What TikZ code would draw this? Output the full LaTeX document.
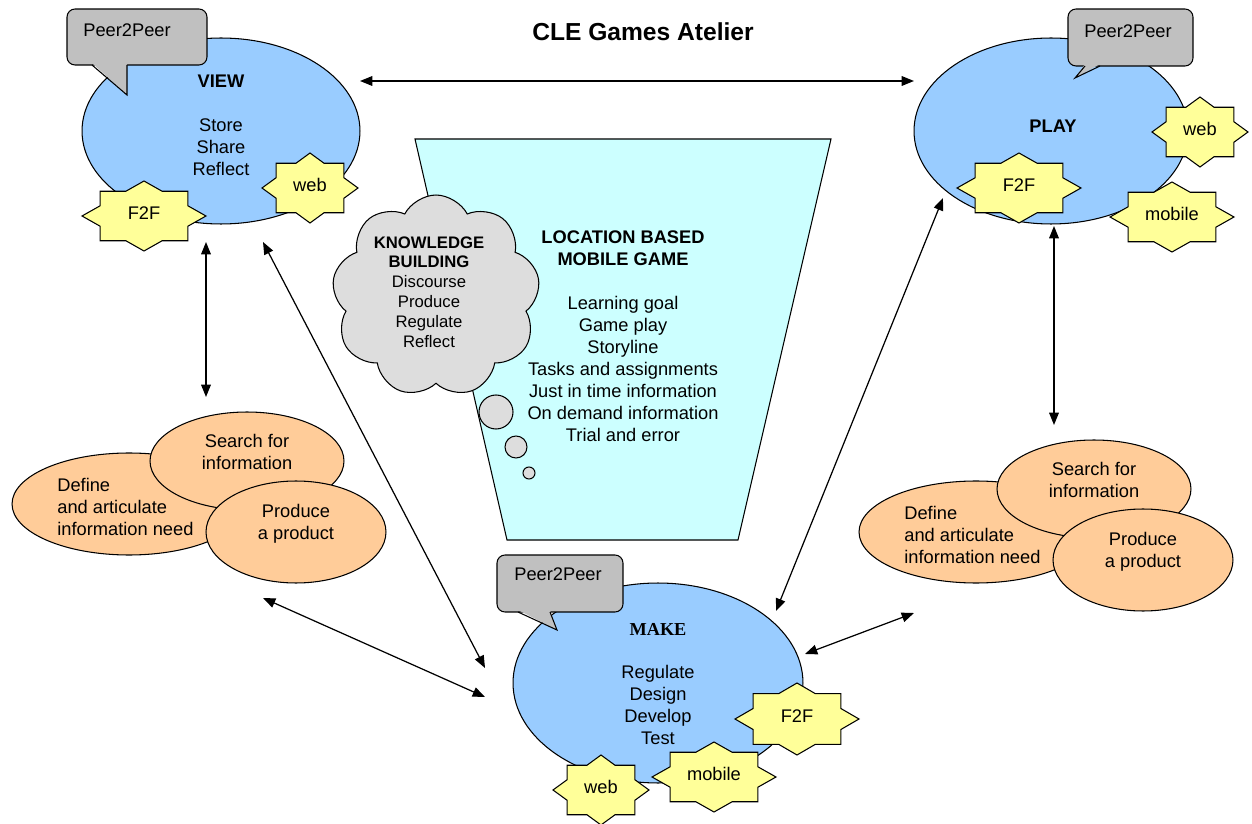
\documentclass[tikz,border=0pt]{standalone}
\usepackage{fontspec}
\setmainfont{Liberation Sans}
\newfontfamily\makefont{Liberation Serif}
\usetikzlibrary{shapes.geometric,shapes.symbols,arrows.meta}

\definecolor{ovalblue}{HTML}{99CCFF}
\definecolor{badgeyellow}{HTML}{FFFF99}
\definecolor{calloutgray}{HTML}{C0C0C0}
\definecolor{skillorange}{HTML}{FFCC99}
\definecolor{funnelcyan}{HTML}{CCFFFF}
\definecolor{cloudgray}{HTML}{DDDDDD}

\tikzset{
  outline/.style={draw=black, line width=0.6pt},
  activity/.style={ellipse, outline, fill=ovalblue},
  skill/.style={ellipse, outline, fill=skillorange},
  callout/.style={rectangle, outline, fill=calloutgray, rounded corners=0.16cm},
  bubble/.style={circle, outline, fill=cloudgray},
  link/.style={line width=0.7pt,
    {Triangle[length=7pt,width=5.5pt]}-{Triangle[length=7pt,width=5.5pt]}},
  % eight-point badge: #1 half width, #2 half height, #3 text
  pics/badge/.style n args={3}{code={
    \begin{scope}[xscale=#1, yscale=#2]
      \draw[outline, fill=badgeyellow] (1,0) -- (0.7068,0.2928) -- (0.7071,0.7071)
        -- (0.2928,0.7068) -- (0,1) -- (-0.2928,0.7068) -- (-0.7071,0.7071)
        -- (-0.7068,0.2928) -- (-1,0) -- (-0.7068,-0.2928) -- (-0.7071,-0.7071)
        -- (-0.2928,-0.7068) -- (0,-1) -- (0.2928,-0.7068) -- (0.7071,-0.7071)
        -- (0.7068,-0.2928) -- cycle;
    \end{scope}
    \node (-text) at (0,-3) {#3};
  }},
  % three overlapping information-skill ovals
  pics/infoskills/.style={code={
    \node[skill, minimum width=4.68cm, minimum height=2.04cm] (-define) at (129,504) {};
    \node[skill, minimum width=3.88cm, minimum height=1.96cm] (-search) at (247,461) {};
    \node[skill, minimum width=3.6cm, minimum height=2.04cm] (-produce) at (296,532) {};
    \node[anchor=west, align=left] (-definetext) at (57,507) {Define\\and articulate\\information need};
    \node (-searchtext) at (247,452) {Search for\\information};
    \node (-producetext) at (296,524) {Produce\\a product};
  }}
}

\begin{document}
\begin{tikzpicture}[x=0.02cm, y=-0.02cm,
  every node/.style={font=\fontsize{10.4}{12.5}\selectfont, align=center, inner sep=0pt}]
\useasboundingbox (0,0) rectangle (1252,824);

% title
\node[font=\fontsize{14}{16}\selectfont\bfseries] (title) at (643,32) {CLE Games Atelier};

% central funnel: location based mobile game
\draw[outline, fill=funnelcyan] (415,139) -- (831,139) -- (738,540) -- (507,540) -- cycle;
\node[font=\fontsize{10.4}{12.5}\selectfont\bfseries] (gamehead) at (623,248.5) {LOCATION BASED\\MOBILE GAME};
\node (gamebody) at (623,369) {Learning goal\\Game play\\Storyline\\Tasks and assignments\\Just in time information\\On demand information\\Trial and error};

% knowledge building thought cloud
\node[cloud, cloud puffs=9, cloud puff arc=125, outline, fill=cloudgray,
      minimum width=4.16cm, minimum height=4.04cm] (kb) at (436,296) {};
\node[bubble, minimum size=0.68cm] (kb1) at (496,412) {};
\node[bubble, minimum size=0.44cm] (kb2) at (516,447) {};
\node[bubble, minimum size=0.24cm] (kb3) at (529,473) {};
\node[font=\fontsize{9.5}{11.3}\selectfont] (kbtext) at (429,292)
  {\textbf{KNOWLEDGE}\\\textbf{BUILDING}\\Discourse\\Produce\\Regulate\\Reflect};

% VIEW
\node[activity, minimum width=5.56cm, minimum height=3.72cm] (view) at (221,131) {};
\node[callout, minimum width=2.8cm, minimum height=1.12cm] (viewpeer) at (137,37) {};
\fill[calloutgray] (92,63) -- (127,95) -- (127,63) -- cycle;
\draw[outline] (92,65) -- (127,95) -- (127,65);
\node (viewpeertext) at (127,30) {Peer2Peer};
\node[font=\fontsize{10.4}{12.5}\selectfont\bfseries] (viewlabel) at (221,81) {VIEW};
\node (viewbody) at (221,147.5) {Store\\Share\\Reflect};
\pic (viewweb) at (310,188) {badge={48}{35}{web}};
\pic (viewf2f) at (144,216) {badge={62}{35}{F2F}};

% PLAY
\node[activity, minimum width=5.48cm, minimum height=3.72cm] (play) at (1051,131) {};
\node[callout, minimum width=2.5cm, minimum height=1.14cm] (playpeer) at (1130.5,37.5) {};
\fill[calloutgray] (1085,64) -- (1075,78) -- (1100,64) -- cycle;
\draw[outline] (1085,66) -- (1075,78) -- (1100,66);
\node (playpeertext) at (1128,31) {Peer2Peer};
\node[font=\fontsize{10.4}{12.5}\selectfont\bfseries] (playlabel) at (1053,126) {PLAY};
\pic (playweb) at (1200,132) {badge={48}{35}{web}};
\pic (playf2f) at (1019,188) {badge={62}{35}{F2F}};
\pic (playmobile) at (1172,217) {badge={62}{35}{mobile}};

% MAKE
\node[activity, minimum width=5.8cm, minimum height=4.0cm] (make) at (658,683) {};
\node[callout, minimum width=2.52cm, minimum height=1.14cm] (makepeer) at (560,583.5) {};
\fill[calloutgray] (518,610) -- (557,630) -- (550,610) -- cycle;
\draw[outline] (518,612) -- (557,630) -- (550,612);
\node (makepeertext) at (558,574) {Peer2Peer};
\node[font=\fontsize{10.4}{12.5}\selectfont\makefont\bfseries] (makelabel) at (658,629) {MAKE};
\node (makebody) at (658,705) {Regulate\\Design\\Develop\\Test};
\pic (makef2f) at (797,719) {badge={62}{36}{F2F}};
\pic (makemobile) at (714,777) {badge={62}{35}{mobile}};
\pic (makeweb) at (601,790) {badge={48}{35}{web}};

% information skills
\pic (L) at (0,0) {infoskills};
\pic (R) at (847,28) {infoskills};

% connector end points
\coordinate (viewE) at (360,81);
\coordinate (playW) at (914,81);
\coordinate (viewS) at (206,242);
\coordinate (lskillN) at (206,397);
\coordinate (viewSE) at (263,242);
\coordinate (makeNW) at (485,668);
\coordinate (lskillSE) at (263,598);
\coordinate (makeW) at (485,697);
\coordinate (playSW) at (943,198);
\coordinate (makeNE) at (776,611);
\coordinate (playS) at (1054,226);
\coordinate (rskillN) at (1054,425);
\coordinate (makeE) at (805,654);
\coordinate (rskillSW) at (914,613);

\draw[link] (viewE) -- (playW);
\draw[link] (viewS) -- (lskillN);
\draw[link] (viewSE) -- (makeNW);
\draw[link] (lskillSE) -- (makeW);
\draw[link] (playSW) -- (makeNE);
\draw[link] (playS) -- (rskillN);
\draw[link] (makeE) -- (rskillSW);
\end{tikzpicture}
\end{document}
